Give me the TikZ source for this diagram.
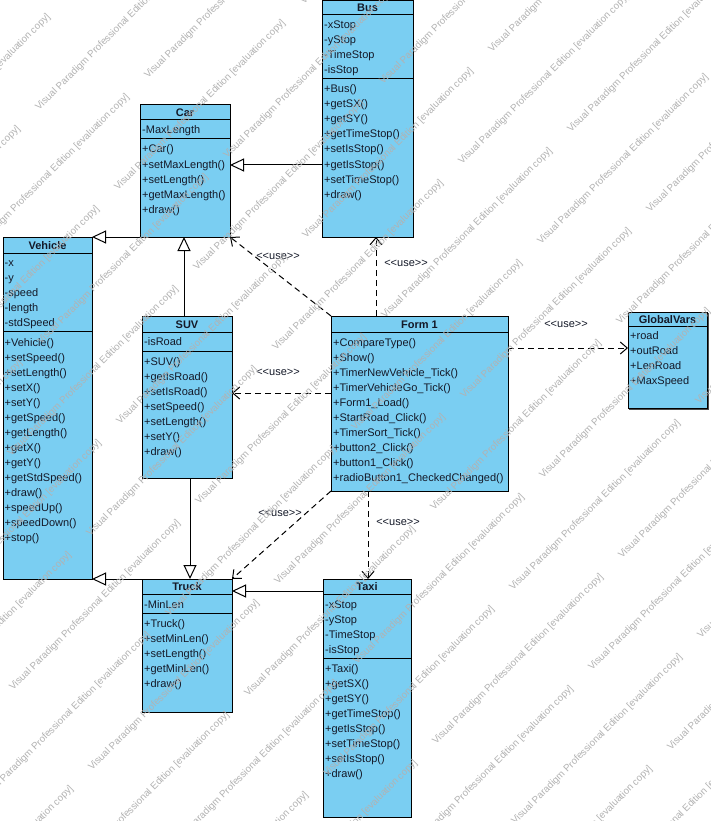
\documentclass[tikz,border=0pt]{standalone}
\usepackage{fontspec}
\setmainfont{Liberation Sans}[Ligatures=TeXOff]
\usetikzlibrary{arrows.meta}
\definecolor{clsfill}{RGB}{122,206,242}
\definecolor{txt}{RGB}{20,25,40}
\definecolor{wmgray}{RGB}{178,178,178}
\tikzset{
 box/.style={draw=black, fill=clsfill, line width=1pt, inner sep=0pt, outer sep=0pt},
 row/.style={anchor=base west, inner sep=0pt, font=\fontsize{11}{13}\selectfont, text=txt},
 ttl/.style={anchor=base, inner sep=0pt, font=\fontsize{11}{13}\selectfont\bfseries, text=txt},
 sepline/.style={line width=1pt, draw=black},
 gen/.style={line width=1pt, -{Triangle[open,length=14pt,width=13pt,line width=1pt]}},
 dep/.style={line width=1pt, dash pattern=on 6pt off 4pt, -{Straight Barb[length=7pt,width=12pt,line width=1pt]}},
 lbl/.style={inner sep=0pt, font=\fontsize{11}{13}\selectfont, text=txt},
 wm/.style={anchor=base west, rotate=45, inner sep=0pt, font=\fontsize{9.8}{10}\selectfont, text=wmgray},
}
\newcommand\umlbox[5]{\node[box, minimum width={#4-#2}, minimum height={#5-#3}] (#1) at ({(#2+#4)/2},{(#3+#5)/2}) {};}
\newcommand\umlsep[3]{\draw[sepline] (#1,#3) -- (#2,#3);}
\newcommand\umlrows[4]{\foreach \t [count=\k from 0] in {#4} {\node[row] (#1-\k) at (#2,{#3+15*\k+4}) {\t};}}
\newcommand\umltitle[4]{\node[ttl] (#1-t) at (#2,{#3+4}) {#4};}
\newcommand\uselbl{\textless\kern0pt\textless use\textgreater\kern0pt\textgreater}
\begin{document}
\begin{tikzpicture}[x=1pt,y=-1pt]
\useasboundingbox (0,0) rectangle (711,821);
\fill[white] (0,0) rectangle (711,821);

% helper coordinates
\coordinate (h165) at (0,165);
\coordinate (h591) at (0,591);
\coordinate (h393) at (0,393);
\coordinate (h348) at (0,348);
\coordinate (v184) at (184,0);
\coordinate (v190) at (190,0);
\coordinate (v376) at (376,0);
\coordinate (v368) at (368,0);

% Bus
\umlbox{bus}{322}{0.5}{413}{237}
\umltitle{bus}{367.5}{7.5}{Bus}
\umlsep{322}{413}{15}
\umlrows{busa}{324}{25}{-xStop,-yStop,-TimeStop,-isStop}
\umlsep{322}{413}{79}
\umlrows{busm}{324}{89}{+Bus(),+getSX(),+getSY(),+getTimeStop(),+setIsStop(),+getIsStop(),+setTimeStop(),+draw()}

% Car
\umlbox{car}{140}{105}{230}{237}
\umltitle{car}{185}{112.5}{Car}
\umlsep{140}{230}{120}
\umlrows{cara}{142}{130}{-MaxLength}
\umlsep{140}{230}{139}
\umlrows{carm}{142}{149}{+Car(),+setMaxLength(),+setLength(),+getMaxLength(),+draw()}

% Vehicle
\umlbox{veh}{3}{237}{92}{579}
\umltitle{veh}{47.5}{245}{Vehicle}
\umlsep{3}{92}{253}
\umlrows{veha}{4.5}{262}{-x,-y,-speed,-length,-stdSpeed}
\umlsep{3}{92}{331}
\umlrows{vehm}{4.5}{342}{+Vehicle(),+setSpeed(),+setLength(),+setX(),+setY(),+getSpeed(),+getLength(),+getX(),+getY(),+getStdSpeed(),+draw(),+speedUp(),+speedDown(),+stop()}

% SUV
\umlbox{suv}{142}{316}{232}{478}
\umltitle{suv}{187}{324}{SUV}
\umlsep{142}{232}{332}
\umlrows{suva}{144}{341}{-isRoad}
\umlsep{142}{232}{351}
\umlrows{suvm}{144}{361}{+SUV(),+getIsRoad(),+setIsRoad(),+setSpeed(),+setLength(),+setY(),+draw()}

% Form 1
\umlbox{form}{331}{316}{508}{491}
\umltitle{form}{419.5}{324}{Form 1}
\umlsep{331}{508}{332}
\umlrows{formm}{333}{342}{+CompareType(),+Show(),+TimerNewVehicle\_Tick(),+TimerVehicleGo\_Tick(),+Form1\_Load(),+StartRoad\_Click(),+TimerSort\_Tick(),+button2\_Click(),+button1\_Click(),+radioButton1\_CheckedChanged()}

% GlobalVars (with a slight shadow on right and bottom)
\draw[line width=1.2pt, black!70] (629,409.2) -- (708.2,409.2) -- (708.2,313);
\umlbox{gv}{628}{312}{707}{408}
\umltitle{gv}{667.5}{319}{GlobalVars}
\umlsep{628}{707}{326}
\umlrows{gva}{630}{335}{+road,+outRoad,+LenRoad,+MaxSpeed}

% Truck
\umlbox{truck}{142}{579}{232}{712}
\umltitle{truck}{187}{586.5}{Truck}
\umlsep{142}{232}{594}
\umlrows{trucka}{144}{604}{-MinLen}
\umlsep{142}{232}{613}
\umlrows{truckm}{144}{623}{+Truck(),+setMinLen(),+setLength(),+getMinLen(),+draw()}

% Taxi
\umlbox{taxi}{323}{579}{411}{817}
\umltitle{taxi}{367}{586.5}{Taxi}
\umlsep{323}{411}{594}
\umlrows{taxia}{325}{604}{-xStop,-yStop,-TimeStop,-isStop}
\umlsep{323}{411}{658}
\umlrows{taxim}{325}{668}{+Taxi(),+getSX(),+getSY(),+getTimeStop(),+getIsStop(),+setTimeStop(),+setIsStop(),+draw()}

% generalizations
\draw[gen] (bus.west |- h165) -- (car.east |- h165);
\draw[gen] (car.south west) -- (veh.north east);
\draw[gen] (suv.north -| v184) -- (car.south -| v184);
\draw[gen] (suv.south -| v190) -- (truck.north -| v190);
\draw[gen] (truck.north west) -- (veh.south east);
\draw[gen] (taxi.west |- h591) -- (truck.east |- h591);

% dependencies
\draw[dep] (form.north west) -- (car.south east);
\draw[dep] (form.north -| v376) -- (bus.south -| v376);
\draw[dep] (form.west |- h393) -- (suv.east |- h393);
\draw[dep] (form.east |- h348) -- (gv.west |- h348);
\draw[dep] (form.south west) -- (truck.north east);
\draw[dep] (form.south -| v368) -- (taxi.north -| v368);

\node[lbl] (l1) at (278,256) {\uselbl};
\node[lbl] (l2) at (406,263) {\uselbl};
\node[lbl] (l3) at (278,372) {\uselbl};
\node[lbl] (l4) at (566,324) {\uselbl};
\node[lbl] (l5) at (280,513) {\uselbl};
\node[lbl] (l6) at (398,522) {\uselbl};

% watermark
\begin{scope}
\clip (0,0) rectangle (711,821);
\foreach \i in {-5,...,2} {
  \foreach \j in {-5,...,8} {
    \node[wm] (wm\i\j a) at ({492+186*\i+79*\j},{53-186*\i+80*\j}) {Visual Paradigm Professional Edition [evaluation copy]};
    \node[wm] (wm\i\j b) at ({462+186*\i+79*\j},{165-186*\i+80*\j}) {Visual Paradigm Professional Edition [evaluation copy]};
  }
}
\end{scope}
\end{tikzpicture}
\end{document}
